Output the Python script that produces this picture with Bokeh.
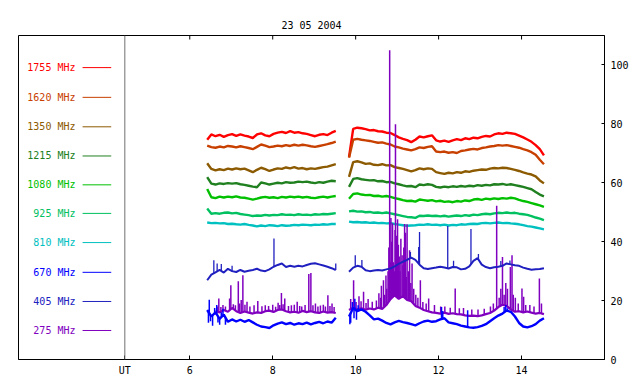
import numpy as np
from bokeh.plotting import figure
from bokeh.models import Range1d, LinearAxis, FixedTicker, Span
from bokeh.core.properties import value
from bokeh.embed import file_html
from bokeh.resources import INLINE

title_text = "23 05 2004"
freq_labels = ["1755 MHz", "1620 MHz", "1350 MHz", "1215 MHz", "1080 MHz",
               "925 MHz", "810 MHz", "670 MHz", "405 MHz", "275 MHz"]
colors = ["#ff0000", "#c84000", "#8c5a00", "#208020", "#00c000",
          "#00c060", "#00c0c0", "#0000ff", "#2020c0", "#8000c0"]
x_ticks = [6, 8, 10, 12, 14]
ut_pos = 4.434
y_ticks = [0, 20, 40, 60, 80, 100]

# time grids (UT hours) of the two observing intervals
t1 = np.round(6.42 + 0.1 * np.arange(32), 2)
t2 = np.round(9.84 + 0.1 * np.arange(48), 2)

# ---- flux values ----
f1755_a = [74.6, 76.4, 75.8, 76.3, 75.6, 76.2, 76.5, 75.9, 76.4, 76.0, 75.7, 75.2, 76.4, 76.8, 76.1, 75.8,
           76.6, 77.0, 77.3, 76.9, 77.5, 77.0, 77.2, 76.8, 76.6, 76.2, 75.8, 76.3, 76.5, 76.2, 77.0, 77.6]
f1755_b = [68.8, 78.3, 78.7, 78.5, 78.2, 77.8, 77.9, 77.5, 77.4, 77.0, 76.9, 76.2, 75.4, 74.9, 74.5, 73.8,
           74.6, 75.7, 75.4, 75.8, 76.1, 74.4, 74.0, 74.3, 73.9, 74.4, 74.8, 74.5, 75.1, 74.8, 75.3, 75.1,
           75.6, 75.9, 75.7, 76.4, 76.8, 76.6, 77.0, 76.8, 76.6, 76.0, 75.4, 74.7, 73.9, 72.8, 71.4, 69.3]
f1620_a = [72.6, 72.1, 71.9, 72.3, 72.0, 72.5, 72.3, 72.0, 72.4, 72.1, 71.8, 71.4, 72.2, 73.0, 72.6, 72.1,
           72.3, 72.6, 72.4, 72.8, 72.5, 72.9, 72.6, 72.9, 72.7, 72.4, 72.2, 72.5, 72.8, 73.1, 73.5, 74.0]
f1620_b = [68.5, 74.6, 74.9, 74.6, 74.4, 74.2, 73.9, 73.6, 73.7, 73.3, 73.0, 72.3, 72.0, 71.6, 71.3, 71.0,
           71.4, 72.0, 71.8, 72.2, 72.4, 70.6, 70.4, 70.6, 70.2, 70.4, 70.1, 70.8, 71.0, 71.3, 71.5, 71.3,
           71.8, 72.0, 72.3, 72.5, 72.8, 72.6, 72.8, 72.5, 72.2, 71.9, 71.4, 71.0, 70.4, 69.5, 67.8, 66.3]
f1350_a = [66.6, 64.7, 64.2, 64.6, 64.3, 64.8, 64.5, 64.9, 64.6, 64.8, 64.2, 63.6, 64.4, 65.1, 64.6, 64.0,
           64.5, 64.9, 64.7, 65.2, 64.9, 65.3, 64.8, 65.0, 64.6, 64.9, 64.7, 65.0, 65.3, 65.5, 65.9, 66.3]
f1350_b = [62.0, 67.0, 67.3, 66.9, 66.4, 66.6, 66.1, 66.0, 66.3, 65.9, 66.0, 65.3, 65.0, 64.7, 64.3, 63.9,
           64.3, 64.9, 64.6, 64.9, 64.7, 63.6, 63.3, 63.0, 63.4, 63.2, 63.6, 63.4, 63.9, 63.7, 64.1, 64.3,
           64.5, 64.4, 64.8, 65.0, 64.9, 65.1, 65.0, 64.7, 64.4, 64.0, 63.5, 63.1, 62.8, 62.2, 60.8, 59.8]
f1215_a = [61.9, 59.7, 59.4, 59.8, 59.6, 59.9, 59.7, 59.9, 59.5, 59.3, 59.0, 58.7, 58.5, 60.1, 59.8, 59.4,
           59.7, 60.0, 59.8, 60.2, 60.0, 60.1, 60.4, 60.2, 60.4, 60.1, 59.9, 60.2, 60.0, 60.4, 60.7, 60.5]
f1215_b = [58.6, 61.3, 61.6, 61.2, 61.0, 60.8, 60.9, 60.5, 60.6, 60.2, 60.3, 59.8, 59.5, 59.1, 58.8, 58.9,
           58.5, 59.4, 59.2, 59.5, 59.3, 58.6, 58.4, 58.7, 58.5, 58.8, 58.6, 58.9, 58.7, 59.0, 58.8, 59.2,
           59.0, 59.3, 59.1, 59.5, 59.4, 59.6, 59.3, 59.5, 59.2, 58.9, 58.6, 58.2, 57.8, 56.9, 56.0, 55.4]
f1080_a = [57.9, 55.1, 54.8, 55.3, 55.0, 55.3, 55.1, 55.4, 55.0, 54.9, 54.6, 54.3, 54.6, 55.0, 55.2, 54.9,
           55.1, 54.8, 55.2, 55.0, 55.3, 55.1, 55.3, 55.0, 55.2, 54.9, 54.8, 55.1, 55.3, 55.0, 55.3, 55.5]
f1080_b = [54.6, 56.2, 56.4, 56.0, 55.8, 55.9, 55.5, 55.6, 55.3, 55.5, 55.2, 54.8, 54.5, 54.1, 53.8, 53.9,
           53.6, 54.3, 54.1, 53.9, 54.1, 53.7, 53.9, 53.5, 53.7, 53.4, 53.8, 53.6, 54.0, 53.8, 54.3, 54.5,
           54.2, 54.6, 54.4, 54.7, 54.5, 54.8, 54.6, 54.9, 54.7, 54.2, 53.8, 53.5, 53.1, 52.7, 52.3, 51.8]
f925_a = [51.3, 49.5, 49.7, 49.5, 49.8, 49.9, 49.6, 49.8, 49.4, 49.2, 49.0, 48.7, 48.9, 48.8, 49.1, 48.9,
          49.1, 49.0, 49.3, 49.1, 49.2, 49.0, 49.3, 49.1, 49.2, 49.0, 49.3, 49.2, 49.4, 49.3, 49.5, 49.7]
f925_b = [50.3, 50.5, 50.2, 50.3, 50.0, 50.1, 49.8, 49.9, 49.7, 49.9, 49.6, 49.3, 49.0, 48.7, 48.4, 48.3,
          48.1, 48.8, 48.7, 48.9, 48.7, 48.8, 48.6, 48.8, 48.5, 48.7, 48.9, 48.7, 49.0, 48.8, 49.2, 49.0,
          49.3, 49.5, 49.3, 49.6, 49.8, 49.7, 49.9, 49.7, 49.8, 49.5, 49.3, 49.1, 48.7, 48.2, 47.8, 47.3]
f810_a = [46.5, 46.3, 46.4, 46.2, 46.3, 46.0, 46.1, 45.9, 45.8, 46.0, 45.7, 45.5, 45.2, 45.5, 45.3, 45.6,
          45.5, 45.3, 45.6, 45.4, 45.5, 45.7, 45.6, 45.8, 45.7, 45.6, 45.8, 45.7, 45.9, 45.8, 46.0, 46.0]
f810_b = [46.8, 46.6, 46.7, 46.5, 46.6, 46.4, 46.5, 46.3, 46.4, 46.2, 46.3, 46.0, 45.8, 45.6, 45.4, 45.5,
          45.6, 45.8, 45.7, 45.9, 45.7, 45.8, 45.6, 45.8, 45.5, 45.7, 45.6, 45.9, 45.8, 46.0, 46.1, 46.0,
          46.3, 46.4, 46.2, 46.4, 46.5, 46.3, 46.4, 46.2, 46.1, 45.9, 45.6, 45.3, 45.1, 44.8, 44.5, 44.2]
f670_a = [16.8, 14.6, 16.0, 13.8, 15.2, 12.8, 13.6, 12.9, 13.5, 12.8, 13.4, 12.6, 11.8, 11.2, 11.0, 10.7,
          11.6, 12.2, 12.6, 12.0, 12.4, 11.8, 12.3, 12.0, 12.5, 11.9, 12.4, 12.8, 12.3, 12.9, 12.5, 14.2]
f670_b = [14.6, 17.5, 16.4, 17.0, 16.2, 15.0, 13.6, 13.9, 13.2, 12.4, 11.9, 12.6, 13.1, 12.7, 12.4, 12.0,
          11.6, 12.3, 12.9, 13.2, 12.8, 13.0, 13.6, 14.0, 12.6, 12.3, 12.0, 11.5, 11.2, 10.9, 10.8, 11.0,
          11.4, 12.0, 13.0, 14.0, 14.9, 15.6, 16.6, 16.2, 14.6, 12.4, 11.2, 10.9, 11.3, 12.0, 13.2, 14.0]
f405_a = [26.9, 28.8, 29.6, 30.4, 29.5, 30.8, 30.0, 29.7, 30.4, 29.8, 30.1, 30.4, 30.8, 30.2, 30.0, 30.6,
          31.5, 32.1, 32.6, 31.4, 31.8, 31.5, 31.8, 31.6, 32.1, 32.5, 32.7, 32.3, 31.9, 31.5, 31.0, 30.4]
f405_b = [29.8, 31.2, 31.8, 31.5, 30.3, 30.0, 30.2, 30.4, 30.2, 30.6, 30.9, 31.6, 32.5, 33.2, 33.8, 34.6,
          33.8, 32.2, 31.0, 30.7, 31.0, 31.2, 31.5, 31.2, 30.9, 31.4, 31.3, 30.6, 30.8, 31.6, 33.5, 34.4,
          32.2, 31.4, 31.0, 31.3, 31.5, 31.8, 32.6, 32.3, 32.0, 31.8, 31.2, 30.8, 30.5, 30.6, 30.7, 31.0]
f275_a = [16.5, 16.0, 16.8, 16.2, 17.5, 16.4, 15.8, 16.3, 15.9, 15.6, 16.0, 15.8, 16.4, 16.6, 16.1,
          16.8, 17.0, 16.4, 16.0, 16.2, 15.9, 16.5, 16.1, 16.4, 16.0, 15.8, 16.3, 15.9, 16.1, 15.8]
f275_b = [16.8, 17.6, 17.0, 17.4, 16.9, 17.3, 17.0, 17.6, 17.2, 18.5, 20.5, 21.8, 20.6, 21.5, 20.2, 19.8,
          18.2, 17.6, 16.8, 16.4, 16.0, 15.8, 15.6, 15.9, 15.5, 15.7, 15.4, 15.3, 15.0, 14.8, 14.9, 14.7,
          15.0, 15.4, 15.8, 16.6, 17.8, 18.6, 18.2, 17.0, 16.2, 16.4, 16.0, 16.3, 15.9, 15.6, 15.8, 15.4]

# short bursts: (UT hour, peak value)
spk670_t = [6.45, 6.47, 6.50, 6.55, 6.60, 6.65, 6.68, 6.72, 6.76, 6.80, 6.86, 9.86, 9.88, 9.92, 9.96,
            9.98, 10.02, 10.06, 12.07, 12.10, 12.70, 13.58, 13.62, 13.66]
spk670_v = [12.5, 20.3, 13.0, 11.5, 17.5, 18.5, 12.6, 11.8, 16.0, 17.2, 11.8, 12.0, 12.5, 19.5, 14.0,
            20.6, 13.5, 18.4, 17.8, 16.5, 16.7, 17.8, 18.5, 17.4]
spk405_t = [6.58, 6.66, 6.76, 7.02, 8.03, 9.52, 9.99, 10.15, 11.32, 11.52, 11.54, 12.22, 12.36, 12.78,
            12.96, 13.50, 13.72]
spk405_v = [33.7, 32.6, 32.4, 31.8, 41.1, 32.6, 35.4, 33.8, 36.5, 38.2, 43.3, 45.3, 33.5, 44.3,
            35.8, 33.4, 33.6]
spk275_t = [6.66, 6.70, 6.75, 6.80, 6.86, 6.96, 6.99, 7.05, 7.10, 7.17, 7.20, 7.24, 7.28, 7.33, 7.38,
            7.45, 7.55, 7.64, 7.74, 7.82, 7.90, 8.00, 8.07, 8.13, 8.17, 8.21, 8.25, 8.29, 8.38, 8.45,
            8.52, 8.59, 8.65, 8.70, 8.78, 8.87, 8.92, 8.97, 9.03, 9.09, 9.15, 9.22, 9.27, 9.33, 9.38,
            9.43, 9.48,
            9.88, 9.95, 10.01, 10.08, 10.13, 10.19, 10.25, 10.30, 10.40, 10.50, 10.56, 10.60, 10.62,
            10.67, 10.70, 10.73, 10.75, 10.78, 10.80, 10.82, 10.84, 10.85, 10.87, 10.89, 10.91,
            10.93, 10.95, 10.96, 10.97, 10.99, 11.01, 11.03, 11.05, 11.07, 11.09, 11.12, 11.14,
            11.16, 11.18, 11.20, 11.22, 11.24, 11.27, 11.30, 11.33, 11.36, 11.40, 11.45, 11.50,
            11.56, 11.62, 11.70, 11.76, 11.90, 12.05, 12.15, 12.28, 12.40, 12.50, 12.60, 12.80,
            12.95, 13.10, 13.25, 13.32, 13.40, 13.46, 13.50, 13.54, 13.58, 13.62, 13.66, 13.73,
            13.77, 13.80, 13.85, 13.92, 14.01, 14.05, 14.10, 14.20, 14.30, 14.43, 14.48]
spk275_v = [18.0, 20.7, 17.8, 18.5, 18.0, 20.7, 25.2, 18.8, 18.4, 26.6, 19.0, 20.2, 28.6, 18.6, 19.6,
            18.0, 18.4, 19.9, 18.1, 18.4, 18.2, 18.6, 17.9, 19.3, 18.5, 22.6, 18.8, 20.7, 18.2, 18.4,
            18.6, 19.6, 18.2, 18.0, 18.5, 29.0, 29.4, 18.4, 19.0, 18.0, 18.3, 18.6, 18.0, 21.8, 18.2,
            19.0, 17.8,
            20.5, 26.9, 19.5, 21.5, 19.8, 23.0, 19.2, 20.5, 19.6, 20.0, 22.5, 21.0, 25.0,
            26.9, 22.0, 28.5, 24.0, 30.0, 38.0, 105.0, 33.0, 48.0, 40.0, 46.3, 33.0,
            30.0, 44.0, 79.9, 36.0, 42.0, 47.6, 39.0, 35.0, 30.0, 41.0, 35.4, 32.0,
            38.0, 46.0, 43.0, 28.0, 45.9, 30.0, 37.1, 26.0, 32.6, 24.0, 22.0, 21.0,
            26.9, 19.5, 19.0, 20.7, 18.5, 18.0, 18.0, 17.6, 24.1, 17.4, 17.5, 17.0,
            17.0, 17.2, 18.0, 19.0, 52.2, 21.0, 24.0, 34.8, 22.0, 26.0, 24.0, 31.4,
            35.4, 22.0, 21.0, 19.0, 24.1, 21.3, 18.5, 18.5, 18.0, 27.5, 19.0]

upper = [(f1755_a, f1755_b), (f1620_a, f1620_b), (f1350_a, f1350_b), (f1215_a, f1215_b),
         (f1080_a, f1080_b), (f925_a, f925_b), (f810_a, f810_b)]

FONT = value("DejaVu Sans Mono")
Y_TOP = 110

p = figure(width=640, height=384, x_range=Range1d(1.87, 16.0), y_range=Range1d(0, Y_TOP),
           output_backend="svg", toolbar_location=None,
           x_axis_location=None, y_axis_location=None,
           min_border_left=18, min_border_right=36, min_border_top=35, min_border_bottom=25)
p.grid.visible = False
p.outline_line_color = "black"
p.outline_line_width = 1
p.background_fill_color = "white"
p.border_fill_color = "white"

p.title.text = title_text
p.title.align = "center"
p.title.text_font = "DejaVu Sans Mono"
p.title.text_font_size = "10px"
p.title.text_font_style = "normal"
p.title.text_color = "black"
p.title.standoff = 10


def style_axis(ax, tick_in):
    ax.major_tick_in = tick_in
    ax.major_tick_out = 0
    ax.minor_tick_line_color = None
    ax.axis_line_color = "black"
    ax.major_tick_line_color = "black"
    ax.major_label_text_font = "DejaVu Sans Mono"
    ax.major_label_text_font_size = "10px"
    ax.major_label_text_color = "black"


xb = LinearAxis(ticker=FixedTicker(ticks=[ut_pos] + x_ticks),
                major_label_overrides={ut_pos: "UT"})
style_axis(xb, 4)
xb.major_label_standoff = 5
p.add_layout(xb, "below")

yr = LinearAxis(ticker=FixedTicker(ticks=y_ticks))
style_axis(yr, 3)
yr.major_label_standoff = 6
p.add_layout(yr, "right")

# inward tick marks on the top edge (4 px long)
tick_len = 4 * Y_TOP / 324.0
p.segment(x0=x_ticks, x1=x_ticks, y0=[Y_TOP] * len(x_ticks), y1=[Y_TOP - tick_len] * len(x_ticks),
          line_color="black", line_width=1)

p.add_layout(Span(location=ut_pos, dimension="height", line_color="#707070", line_width=1))

# legend
legend_y = [99.1, 89.0, 79.0, 69.1, 59.3, 49.6, 39.7, 29.6, 19.7, 9.85]
p.text(x=[3.244] * 10, y=legend_y, text=freq_labels, text_color=colors, text_align="right",
       text_baseline="middle", text_font=FONT, text_font_size="10px")
p.segment(x0=[3.415] * 10, x1=[4.106] * 10, y0=legend_y, y1=legend_y, line_color=colors,
          line_width=1)

for (a, b), c in zip(upper, colors[:7]):
    p.line(t1, a, line_color=c, line_width=2.4)
    p.line(t2, b, line_color=c, line_width=2.4)


def spikes(ts, vs, base_a, base_b, tgrid_a, c, w):
    ts = np.array(ts)
    foot = np.where(ts < 9.7, np.interp(ts, tgrid_a, base_a), np.interp(ts, t2, base_b))
    p.segment(x0=ts, x1=ts, y0=foot, y1=vs, line_color=c, line_width=w)


# 275 MHz
p.line(t1[2:], f275_a, line_color=colors[9], line_width=2.2)
p.line(t2, f275_b, line_color=colors[9], line_width=2.2)
spikes(spk275_t, spk275_v, f275_a, f275_b, t1[2:], colors[9], 1.5)
# 405 MHz
p.line(t1, f405_a, line_color=colors[8], line_width=2)
p.line(t2, f405_b, line_color=colors[8], line_width=2)
spikes(spk405_t, spk405_v, f405_a, f405_b, t1, colors[8], 1.3)
# 670 MHz
p.line(t1, f670_a, line_color=colors[7], line_width=2.4)
p.line(t2, f670_b, line_color=colors[7], line_width=2.4)
spikes(spk670_t, spk670_v, f670_a, f670_b, t1, colors[7], 1.5)

open("out.html", "w").write(file_html(p, INLINE))
